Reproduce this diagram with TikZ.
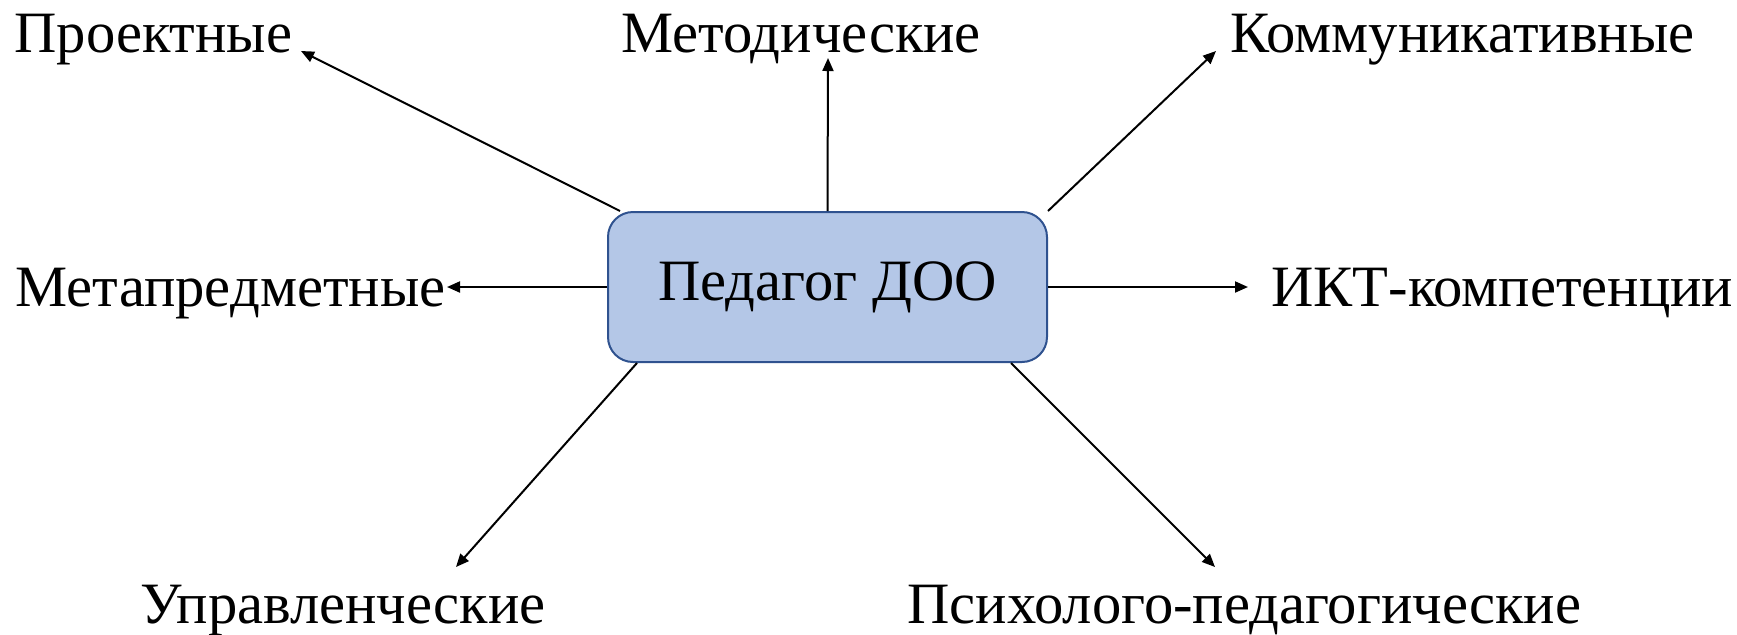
\documentclass[tikz,border=0pt]{standalone}
\usepackage{fontspec}
\setmainfont{Liberation Serif}
\usetikzlibrary{arrows.meta}
\definecolor{hubfill}{HTML}{B4C7E7}
\definecolor{hubline}{HTML}{2F528F}
\begin{document}
\begin{tikzpicture}
[x = 0.5pt, y = -0.5pt,
 hub/.style = {draw = hubline, fill = hubfill, line width = 1pt, rounded corners = 12.5pt, minimum width = 219.5pt, minimum height = 75pt, font = \fontsize{29.3}{35}\selectfont},
 lbl/.style = {inner sep = 0pt, font = \fontsize{29.3}{35}\selectfont},
 arr/.style = {-{Triangle[length = 6.5pt, width = 5.5pt]}, line width = 1pt}
 ]
\useasboundingbox (0,0) rectangle (1737,634);
\node [hub] (ped) at (827.5,287) {Педагог ДОО};
\node [lbl, anchor = base west] (proekt) at (14,52) {Проектные};
\node [lbl, anchor = base] (metod) at (801,52) {Методические};
\node [lbl, anchor = base west] (kommun) at (1230,52) {Коммуникативные};
\node [lbl, anchor = base west] (metapr) at (15,306) {Метапредметные};
\node [lbl, anchor = base west] (ikt) at (1271,306) {ИКТ-компетенции};
\node [lbl, anchor = base] (upravl) at (343,623) {Управленческие};
\node [lbl, anchor = base] (psiho) at (1244.5,623) {Психолого-педагогические};
\coordinate (tproekt) at (301,51);
\coordinate (tmetod) at (828,58);
\coordinate (tkommun) at (1216,51);
\coordinate (tmetapr) at (447,287);
\coordinate (tikt) at (1248,287);
\coordinate (tupravl) at (456,567);
\coordinate (tpsiho) at (1215,567);
\draw [arr] ([xshift = 6.5pt]ped.north west) -- (tproekt);
\draw [arr] (ped.north) -- (tmetod);
\draw [arr] (ped.north east) -- (tkommun);
\draw [arr] (ped.west) -- (tmetapr);
\draw [arr] (ped.east) -- (tikt);
\draw [arr] ([xshift = 15pt]ped.south west) -- (tupravl);
\draw [arr] ([xshift = -18.5pt]ped.south east) -- (tpsiho);
\end{tikzpicture}
\end{document}
